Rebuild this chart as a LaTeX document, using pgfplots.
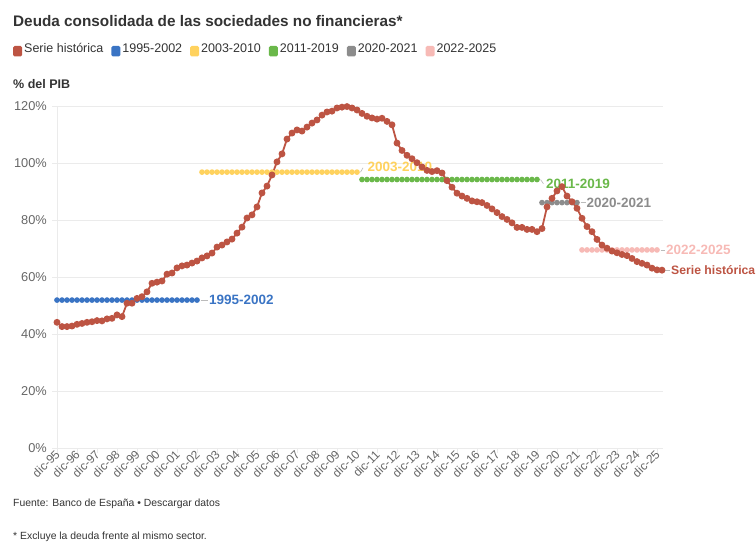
\documentclass[border=0pt]{standalone}
\usepackage{pgfplots}
\pgfplotsset{compat=1.18}
\usepackage{pgfplotstable}
\usepackage{fontspec}
\setmainfont{Liberation Sans}
\definecolor{serie}{HTML}{BD5443}
\definecolor{azul}{HTML}{3A74C4}
\definecolor{amar}{HTML}{FFD25E}
\definecolor{verde}{HTML}{6AB84A}
\definecolor{gris}{HTML}{8C8C8C}
\definecolor{rosa}{HTML}{F7BAB6}
\definecolor{gridc}{HTML}{EBEBEB}
\definecolor{txt}{HTML}{333333}
\definecolor{tickc}{HTML}{666666}
\definecolor{lead}{HTML}{BBBBBB}

\pgfplotstableread{
x y
0 44.1
1 42.6
2 42.6
3 42.8
4 43.4
5 43.7
6 44.1
7 44.3
8 44.7
9 44.6
10 45.3
11 45.5
12 46.7
13 46.1
14 50.8
15 50.8
16 52.5
17 53.1
18 54.8
19 57.8
20 58.2
21 58.6
22 61.0
23 61.4
24 63.2
25 63.9
26 64.2
27 64.9
28 65.6
29 66.7
30 67.4
31 68.4
32 70.5
33 71.2
34 72.3
35 73.3
36 75.4
37 77.5
38 80.7
39 81.8
40 84.6
41 89.5
42 91.9
43 95.8
44 100.4
45 103.2
46 108.4
47 110.5
48 111.6
49 111.2
50 112.6
51 114.0
52 115.1
53 116.8
54 117.9
55 118.2
56 119.3
57 119.6
58 119.8
59 119.3
60 118.6
61 117.4
62 116.4
63 115.8
64 115.4
65 115.7
66 114.6
67 113.4
68 107.0
69 104.4
70 102.7
71 101.5
72 100.1
73 98.6
74 97.4
75 97.0
76 97.3
77 96.5
78 93.8
79 91.5
80 89.4
81 88.4
82 87.6
83 86.7
84 86.4
85 86.1
86 85.1
87 83.9
88 82.6
89 81.2
90 80.2
91 79.0
92 77.4
93 77.4
94 76.7
95 76.7
96 75.9
97 77.0
98 84.6
99 87.6
100 90.2
101 91.7
102 88.4
103 86.4
104 84.1
105 80.6
106 77.7
107 75.9
108 73.2
109 71.2
110 70.1
111 69.1
112 68.5
113 67.9
114 67.5
115 66.5
116 65.4
117 64.8
118 64.2
119 63.1
120 62.5
121 62.4
}\serietab

\newcommand{\legsq}[1]{\tikz[baseline=-0.1em]\fill[#1, rounded corners=1.5pt] (0,-5pt) rectangle (9pt,5.5pt);}

\begin{document}
\begin{tikzpicture}
\path[use as bounding box] (0pt,0pt) rectangle (756pt,542pt);
% title
\node[anchor=base west, inner sep=0, text=txt, font=\fontsize{15.3}{18}\selectfont\bfseries] at (13pt,515pt) {Deuda consolidada de las sociedades no financieras*};
% legend
\node[anchor=west, inner sep=0, text=txt, font=\fontsize{12.5}{15}\selectfont] at (13pt,492pt) {%
\legsq{serie}\hspace{2pt}Serie histórica\hspace{8pt}%
\legsq{azul}\hspace{2pt}1995-2002\hspace{8pt}%
\legsq{amar}\hspace{2pt}2003-2010\hspace{8pt}%
\legsq{verde}\hspace{2pt}2011-2019\hspace{8pt}%
\legsq{gris}\hspace{2pt}2020-2021\hspace{8pt}%
\legsq{rosa}\hspace{2pt}2022-2025};
% y axis title
\node[anchor=base west, inner sep=0, text=txt, font=\fontsize{12.5}{15}\selectfont\bfseries] at (13pt,453pt) {\% del PIB};
% footer
\node[anchor=base west, inner sep=0, text=txt, font=\fontsize{10.4}{12}\selectfont] at (13pt,36pt) {Fuente: Banco de España • Descargar datos};
\node[anchor=base west, inner sep=0, text=txt, font=\fontsize{10.4}{12}\selectfont] at (13pt,3pt) {* Excluye la deuda frente al mismo sector.};

\begin{axis}[
  at={(57pt,94pt)}, anchor=south west,
  scale only axis, width=606pt, height=342pt,
  xmin=0, xmax=121.2, ymin=0, ymax=120,
  clip=false,
  axis x line*=bottom, axis y line*=left,
  axis line style={gridc, line width=0.8pt, -},
  ymajorgrids, grid style={gridc, line width=0.8pt},
  ytick={0,20,...,120},
  yticklabel={\pgfmathprintnumber{\tick}\%},
  /pgf/number format/assume math mode=true,
  xtick={0,4,...,120},
  xticklabels={dic-95,dic-96,dic-97,dic-98,dic-99,dic-00,dic-01,dic-02,dic-03,dic-04,dic-05,dic-06,dic-07,dic-08,dic-09,dic-10,dic-11,dic-12,dic-13,dic-14,dic-15,dic-16,dic-17,dic-18,dic-19,dic-20,dic-21,dic-22,dic-23,dic-24,dic-25},
  tick align=outside,
  major tick length=5pt,
  tick style={gridc, line width=0.8pt},
  y tick label style={font=\fontsize{12.8}{14}\selectfont, text=tickc, inner sep=2pt, xshift=-3pt},
  x tick label style={font=\fontsize{12}{14}\selectfont, text=tickc, rotate=45, anchor=east, inner sep=1pt, xshift=2pt},
]
% period averages
\addplot[azul, line width=1.2pt, mark=*, mark size=2.2pt, mark options={fill=azul, draw=azul}] coordinates {
(0,51.9)(1,51.9)(2,51.9)(3,51.9)(4,51.9)(5,51.9)(6,51.9)(7,51.9)(8,51.9)(9,51.9)(10,51.9)(11,51.9)(12,51.9)(13,51.9)(14,51.9)(15,51.9)(16,51.9)(17,51.9)(18,51.9)(19,51.9)(20,51.9)(21,51.9)(22,51.9)(23,51.9)(24,51.9)(25,51.9)(26,51.9)(27,51.9)(28,51.9)};
\addplot[amar, line width=1.2pt, mark=*, mark size=2.2pt, mark options={fill=amar, draw=amar}] coordinates {
(29,96.8)(30,96.8)(31,96.8)(32,96.8)(33,96.8)(34,96.8)(35,96.8)(36,96.8)(37,96.8)(38,96.8)(39,96.8)(40,96.8)(41,96.8)(42,96.8)(43,96.8)(44,96.8)(45,96.8)(46,96.8)(47,96.8)(48,96.8)(49,96.8)(50,96.8)(51,96.8)(52,96.8)(53,96.8)(54,96.8)(55,96.8)(56,96.8)(57,96.8)(58,96.8)(59,96.8)(60,96.8)};
\addplot[verde, line width=1.2pt, mark=*, mark size=2.2pt, mark options={fill=verde, draw=verde}] coordinates {
(61,94.2)(62,94.2)(63,94.2)(64,94.2)(65,94.2)(66,94.2)(67,94.2)(68,94.2)(69,94.2)(70,94.2)(71,94.2)(72,94.2)(73,94.2)(74,94.2)(75,94.2)(76,94.2)(77,94.2)(78,94.2)(79,94.2)(80,94.2)(81,94.2)(82,94.2)(83,94.2)(84,94.2)(85,94.2)(86,94.2)(87,94.2)(88,94.2)(89,94.2)(90,94.2)(91,94.2)(92,94.2)(93,94.2)(94,94.2)(95,94.2)(96,94.2)};
\addplot[gris, line width=1.2pt, mark=*, mark size=2.2pt, mark options={fill=gris, draw=gris}] coordinates {
(97,86.1)(98,86.1)(99,86.1)(100,86.1)(101,86.1)(102,86.1)(103,86.1)(104,86.1)};
\addplot[rosa, line width=1.2pt, mark=*, mark size=2.2pt, mark options={fill=rosa, draw=rosa}] coordinates {
(105,69.5)(106,69.5)(107,69.5)(108,69.5)(109,69.5)(110,69.5)(111,69.5)(112,69.5)(113,69.5)(114,69.5)(115,69.5)(116,69.5)(117,69.5)(118,69.5)(119,69.5)(120,69.5)};
% historical series
\addplot[serie, line width=1.8pt, mark=*, mark size=2.5pt, mark options={fill=serie, draw=serie}] table[x=x, y=y] {\serietab};
% end labels
\draw[lead, line width=0.6pt] (axis cs:28.7,51.9) -- (axis cs:30.2,51.9);
\node[anchor=west, inner sep=0, text=azul, font=\fontsize{13.5}{15}\selectfont\bfseries] at (axis cs:30.4,51.9) {1995-2002};
\draw[lead, line width=0.6pt] (axis cs:60.7,96.8) -- (axis cs:61.2,98.3);
\node[anchor=west, inner sep=0, text=amar, font=\fontsize{13.5}{15}\selectfont\bfseries] at (axis cs:62.1,98.5) {2003-2010};
\draw[lead, line width=0.6pt] (axis cs:96.7,94.2) -- (axis cs:97.3,92.7);
\node[anchor=west, inner sep=0, text=verde, font=\fontsize{13.5}{15}\selectfont\bfseries] at (axis cs:97.8,92.6) {2011-2019};
\draw[lead, line width=0.6pt] (axis cs:104.7,86.1) -- (axis cs:105.7,86.1);
\node[anchor=west, inner sep=0, text=gris, font=\fontsize{13.5}{15}\selectfont\bfseries] at (axis cs:105.9,86.1) {2020-2021};
\draw[lead, line width=0.6pt] (axis cs:120.7,69.5) -- (axis cs:121.6,69.5);
\node[anchor=west, inner sep=0, text=rosa, font=\fontsize{13.5}{15}\selectfont\bfseries] at (axis cs:121.8,69.4) {2022-2025};
\draw[lead, line width=0.6pt] (axis cs:121.5,62.4) -- (axis cs:122.6,62.4);
\node[anchor=west, inner sep=0, text=serie, font=\fontsize{12.2}{14}\selectfont\bfseries] at (axis cs:122.8,62.4) {Serie histórica};
\end{axis}
\end{tikzpicture}
\end{document}
